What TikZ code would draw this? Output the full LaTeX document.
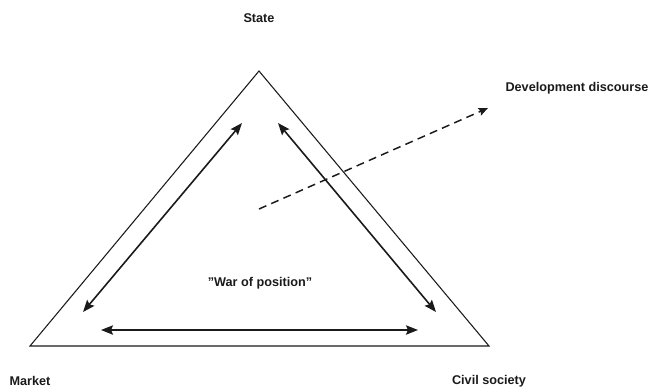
\documentclass[tikz,border=0pt]{standalone}
\usepackage{fontspec}
\setmainfont{Liberation Sans}
\usetikzlibrary{arrows.meta,calc}
\definecolor{gLine}{HTML}{1A1A1A}
\tikzset{
  lbl/.style={font=\fontsize{9.5}{11}\selectfont\bfseries, inner sep=0pt, text=gLine},
  side/.style={draw=gLine, line width=0.8pt, line join=miter},
  tip/.style={Stealth[length=9pt, width=7pt, inset=1.5pt]},
  pull/.style={{Stealth[length=9pt, width=7pt, inset=1.5pt]}-{Stealth[length=9pt, width=7pt, inset=1.5pt]}, line width=1.2pt, draw=gLine},
  discourse/.style={-{Stealth[length=7pt, width=6pt, inset=1pt]}, dash pattern=on 6pt off 4pt, line width=1.1pt, draw=gLine}
}

\begin{document}
\begin{tikzpicture}[x=0.75pt, y=-0.75pt]
  \useasboundingbox (0,0) rectangle (652,387);

  % triangle corners
  \coordinate (top) at (259,71);
  \coordinate (left) at (30,346);
  \coordinate (right) at (489,346);
  \draw[side] (top) -- (left) -- (right) -- cycle;

  % labels
  \node[lbl] (state) at (259,18) {State};
  \node[lbl] (market) at (30,381) {Market};
  \node[lbl] (civil) at (489,381) {Civil society};
  \node[lbl] (dev) at (577,88) {Development discourse};
  \node[lbl] (war) at (260,283) {''War of position''};

  % arrow ends
  \coordinate (sm) at (242,123);
  \coordinate (ms) at (83,312);
  \coordinate (sc) at (278,123);
  \coordinate (cs) at (436,312);
  \coordinate (mc) at (101,330);
  \coordinate (cm) at (418,330);
  \coordinate (d0) at (259,209);
  \coordinate (d1) at (488,108);

  \draw[pull] (ms) -- (sm);
  \draw[pull] (sc) -- (cs);
  \draw[pull] (mc) -- (cm);
  \draw[discourse] (d0) -- (d1);
\end{tikzpicture}
\end{document}
